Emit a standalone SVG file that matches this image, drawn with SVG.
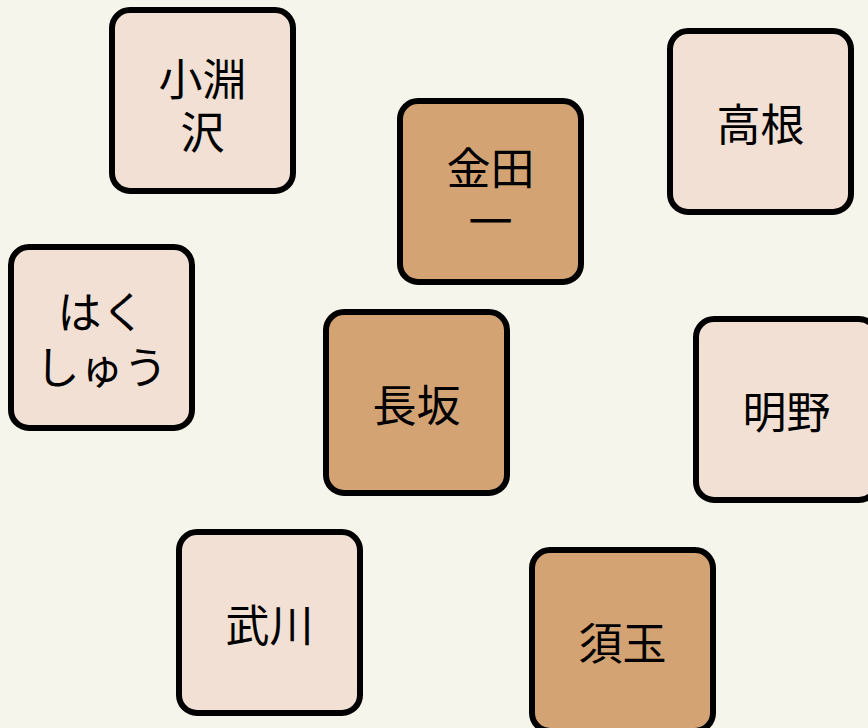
<svg xmlns="http://www.w3.org/2000/svg" width="868" height="728" viewBox="0 0 868 728">
<style>
.n rect{stroke:#000;stroke-width:6}
.l rect{fill:#F1E0D3}
.d rect{fill:#D3A374}
text{font-family:"Noto Sans CJK JP","Noto Sans CJK SC",sans-serif;font-size:44px;fill:#000;text-anchor:middle;dominant-baseline:central}
</style>
<rect width="868" height="728" fill="#F5F5EC"/>
<g id="connectors"/>
<g id="n-kobuchizawa" class="n l"><rect x="112" y="10" width="181" height="181" rx="18"/><text x="202.5" y="77"><tspan x="202.5">小淵</tspan><tspan x="202.5" dy="53">沢</tspan></text></g>
<g id="n-kindaichi" class="n d"><rect x="400" y="101" width="181" height="181" rx="18"/><text x="490.5" y="166"><tspan x="490.5">金田</tspan><tspan x="490.5" dy="53">一</tspan></text></g>
<g id="n-takane" class="n l"><rect x="670" y="31" width="181" height="181" rx="18"/><text x="760.5" y="121.5">高根</text></g>
<g id="n-hakushu" class="n l"><rect x="11" y="247" width="181" height="181" rx="18"/><text x="101.5" y="310"><tspan x="101.5">はく</tspan><tspan x="101.5" dy="55">しゅう</tspan></text></g>
<g id="n-nagasaka" class="n d"><rect x="326" y="312" width="181" height="181" rx="18"/><text x="416.5" y="402.5">長坂</text></g>
<g id="n-akeno" class="n l"><rect x="696" y="319" width="181" height="181" rx="18"/><text x="786.5" y="409.5">明野</text></g>
<g id="n-mukawa" class="n l"><rect x="179" y="532" width="181" height="181" rx="18"/><text x="269.5" y="622.5">武川</text></g>
<g id="n-sudama" class="n d"><rect x="532" y="550" width="181" height="181" rx="18"/><text x="622.5" y="640.5">須玉</text></g>
</svg>
